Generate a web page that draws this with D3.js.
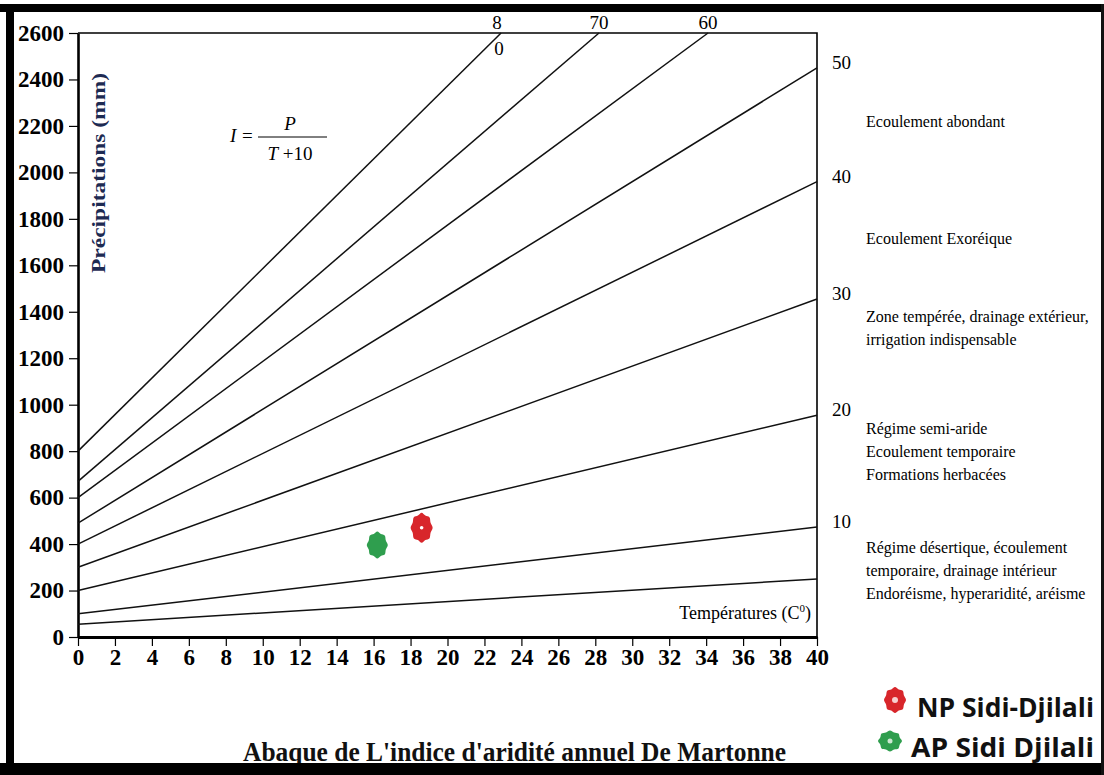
<!DOCTYPE html>
<html>
<head>
<meta charset="utf-8">
<script src="https://cdn.jsdelivr.net/npm/d3@7"></script>
<style>
  body { margin: 0; background: #fff; }
  .tick text { font-family: "Liberation Serif", serif; font-weight: bold; }
</style>
</head>
<body>
<div id="my_dataviz"></div>
<script>
// iso-index lines of De Martonne: I = P / (T + 10)
var indices = [80, 70, 60, 50, 40, 30, 20, 10, 5]
var startP  = [800, 670, 600, 490, 400, 300, 200, 100, 55]   // P at T = 0
var endT    = [22.9, 28.2, 34.1, 40, 40, 40, 40, 40, 40]
var endP    = [2600, 2600, 2600, 2450, 1960, 1455, 955, 473, 250]

var xTicks = [0, 2, 4, 6, 8, 10, 12, 14, 16, 18, 20, 22, 24, 26, 28, 30, 32, 34, 36, 38, 40]
var yTicks = [0, 200, 400, 600, 800, 1000, 1200, 1400, 1600, 1800, 2000, 2200, 2400, 2600]

var stations = ["NP Sidi-Djilali", "AP Sidi Djilali"]
var stationT = [18.6, 16.2]
var stationP = [470, 396]
var stationColor = ["#d8262b", "#2f9e4e"]

var zoneLabels = [
  ["Ecoulement abondant"],
  ["Ecoulement Exoréique"],
  ["Zone tempérée, drainage extérieur,", "irrigation indispensable"],
  ["Régime semi-aride", "Ecoulement temporaire", "Formations herbacées"],
  ["Régime désertique, écoulement", "temporaire, drainage intérieur", "Endoréisme, hyperaridité, aréisme"]
]
var zoneP = [2195, 1690, 1355, 875, 360]

var width = 1104, height = 775

var svg = d3.select("#my_dataviz")
  .append("svg")
    .attr("width", width)
    .attr("height", height)

svg.append("rect").attr("width", width).attr("height", height).attr("fill", "#fff")

var x = d3.scaleLinear().domain([0, 40]).range([78, 817])
var y = d3.scaleLinear().domain([0, 2600]).range([637, 33])

// frame (top + right, thin)
svg.append("path")
  .attr("d", d3.line()([[x(0), y(2600)], [x(40), y(2600)], [x(40), y(0)]]))
  .attr("fill", "none")
  .attr("stroke", "#000")
  .attr("stroke-width", 1.6)

// axes
var yAxis = svg.append("g")
  .attr("transform", "translate(" + x(0) + ",0)")
  .call(d3.axisLeft(y).tickValues(yTicks).tickFormat(d3.format("d")).tickSize(9).tickPadding(5).tickSizeOuter(0))
yAxis.select(".domain").attr("stroke-width", 2.6)
yAxis.selectAll(".tick line").attr("stroke-width", 1.2)
yAxis.selectAll(".tick text").style("font-size", "23px").attr("fill", "#000")

var xAxis = svg.append("g")
  .attr("transform", "translate(0," + y(0) + ")")
  .call(d3.axisBottom(x).tickValues(xTicks).tickSize(9).tickPadding(3).tickSizeOuter(0))
xAxis.select(".domain").attr("stroke-width", 3)
xAxis.selectAll(".tick line").attr("stroke-width", 1.2)
xAxis.selectAll(".tick text").style("font-size", "23px").attr("fill", "#000")

// iso lines
svg.append("g")
  .selectAll("line")
  .data(indices)
  .enter()
  .append("line")
    .attr("x1", function(d, i) { return x(0) })
    .attr("y1", function(d, i) { return y(startP[i]) })
    .attr("x2", function(d, i) { return x(endT[i]) })
    .attr("y2", function(d, i) { return y(endP[i]) })
    .attr("stroke", "#111")
    .attr("stroke-width", 1.5)

// index labels on top edge
var serif = "'Liberation Serif', 'Times New Roman', serif"
svg.append("g")
  .selectAll("text")
  .data(indices.filter(function(d, i) { return endP[i] == 2600 && d != 80 }))
  .enter()
  .append("text")
    .attr("x", function(d) { return x(endT[indices.indexOf(d)]) })
    .attr("y", y(2600) - 4)
    .attr("text-anchor", "middle")
    .style("font-family", serif)
    .style("font-size", "19px")
    .text(function(d) { return d })
// "80" is split across the frame line
svg.append("text").attr("x", x(endT[0]) - 4).attr("y", y(2600) - 4)
  .attr("text-anchor", "middle").style("font-family", serif).style("font-size", "19px").text("8")
svg.append("text").attr("x", x(endT[0]) - 2).attr("y", y(2600) + 22)
  .attr("text-anchor", "middle").style("font-family", serif).style("font-size", "19px").text("0")

// index labels on right edge
svg.append("g")
  .selectAll("text")
  .data(indices.filter(function(d, i) { return endT[i] == 40 && d >= 10 }))
  .enter()
  .append("text")
    .attr("x", x(40) + 15)
    .attr("y", function(d) { return y(endP[indices.indexOf(d)]) + 1 })
    .style("font-family", serif)
    .style("font-size", "19px")
    .text(function(d) { return d })

// zone descriptions
zoneLabels.forEach(function(lines, k) {
  svg.append("text")
    .attr("x", 866)
    .attr("y", y(zoneP[k]))
    .style("font-family", serif)
    .style("font-size", "16px")
    .selectAll("tspan")
    .data(lines)
    .enter()
    .append("tspan")
      .attr("x", 866)
      .attr("dy", function(d, i) { return i == 0 ? 0 : 23 })
      .text(function(d) { return d })
})

// formula
var fx = 230, fy = 142
svg.append("text").attr("x", fx).attr("y", fy).style("font-family", serif)
  .style("font-size", "19px").style("font-style", "italic").text("I")
svg.append("text").attr("x", fx + 12).attr("y", fy).style("font-family", serif)
  .style("font-size", "19px").text("=")
svg.append("line").attr("x1", fx + 28).attr("x2", fx + 97).attr("y1", fy - 5).attr("y2", fy - 5)
  .attr("stroke", "#000").attr("stroke-width", 1)
svg.append("text").attr("x", fx + 60).attr("y", fy - 12).attr("text-anchor", "middle")
  .style("font-family", serif).style("font-size", "19px").style("font-style", "italic").text("P")
var den = svg.append("text").attr("x", fx + 60).attr("y", fy + 18).attr("text-anchor", "middle")
  .style("font-family", serif).style("font-size", "19px")
den.append("tspan").style("font-style", "italic").text("T")
den.append("tspan").text(" +10")

// axis titles
svg.append("text")
  .attr("transform", "rotate(-90)")
  .attr("x", -173)
  .attr("y", 105)
  .attr("text-anchor", "middle")
  .attr("textLength", 200)
  .attr("lengthAdjust", "spacingAndGlyphs")
  .style("font-family", serif)
  .style("font-weight", "bold")
  .style("font-size", "18px")
  .attr("fill", "#1d2a52")
  .text("Précipitations (mm)")

var tt = svg.append("text")
  .attr("x", 811)
  .attr("y", 619)
  .attr("text-anchor", "end")
  .style("font-family", serif)
  .style("font-size", "18px")
tt.append("tspan").text("Températures (C")
tt.append("tspan").attr("dy", -7).style("font-size", "11px").text("0")
tt.append("tspan").attr("dy", 7).text(")")

// stations: bumpy "flower" marker
function flower(w, h) {
  var pts = d3.range(16).map(function(i) {
    var a = i * Math.PI / 8
    var r = i % 2 == 0 ? 1 : 0.88
    return [Math.sin(a) * r * w / 2, -Math.cos(a) * r * h / 2]
  })
  return d3.line().curve(d3.curveCatmullRomClosed)(pts)
}

svg.append("g")
  .selectAll("path")
  .data(stations)
  .enter()
  .append("path")
    .attr("transform", function(d, i) { return "translate(" + x(stationT[i]) + "," + y(stationP[i]) + ")" })
    .attr("d", function(d, i) { return i == 0 ? flower(22, 30) : flower(21, 27) })
    .attr("fill", function(d, i) { return stationColor[i] })
svg.append("circle").attr("cx", x(stationT[0])).attr("cy", y(stationP[0])).attr("r", 1.8).attr("fill", "#fff")

// title
svg.append("text")
  .attr("x", 243)
  .attr("y", 761)
  .attr("textLength", 543)
  .attr("lengthAdjust", "spacingAndGlyphs")
  .style("font-family", serif)
  .style("font-weight", "bold")
  .style("font-size", "27px")
  .attr("fill", "#111")
  .text("Abaque de L'indice d'aridité annuel De Martonne")

// legend
var legend = svg.append("g")
legend.selectAll("path")
  .data(stations)
  .enter()
  .append("path")
    .attr("transform", function(d, i) { return "translate(" + (i == 0 ? 895 : 890) + "," + (i == 0 ? 700 : 741) + ")" })
    .attr("d", function(d, i) { return i == 0 ? flower(22, 26) : flower(24, 21) })
    .attr("fill", function(d, i) { return stationColor[i] })
legend.append("circle").attr("cx", 895).attr("cy", 700).attr("r", 3).attr("fill", "#f7d0d0")
legend.append("circle").attr("cx", 890).attr("cy", 741).attr("r", 2.5).attr("fill", "#cde8d2")
legend.selectAll("text")
  .data(stations)
  .enter()
  .append("text")
    .attr("x", function(d, i) { return i == 0 ? 917 : 911 })
    .attr("y", function(d, i) { return i == 0 ? 717 : 757 })
    .attr("textLength", function(d, i) { return i == 0 ? 177 : 183 })
    .attr("lengthAdjust", "spacingAndGlyphs")
    .style("font-family", "'Open Sans', sans-serif")
    .style("font-weight", "bold")
    .style("font-size", "27px")
    .attr("fill", "#111")
    .text(function(d) { return d })

// outer picture border
svg.append("rect").attr("x", 0).attr("y", 4).attr("width", width).attr("height", 8).attr("fill", "#000")
svg.append("rect").attr("x", 6).attr("y", 4).attr("width", 8).attr("height", height).attr("fill", "#000")
svg.append("rect").attr("x", 0).attr("y", 763).attr("width", width).attr("height", 12).attr("fill", "#000")
svg.append("rect").attr("x", 1101).attr("y", 4).attr("width", 3).attr("height", height).attr("fill", "#111")
</script>
</body>
</html>
